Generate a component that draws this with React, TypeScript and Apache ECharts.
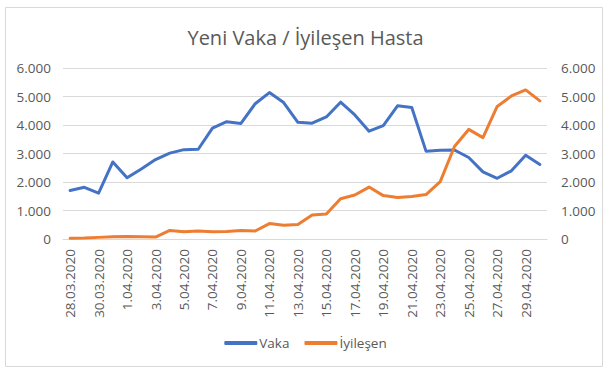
import React, { useEffect, useRef } from "react";
import * as echarts from "echarts";

const dates = [
  "28.03.2020", "29.03.2020", "30.03.2020", "31.03.2020",
  "1.04.2020", "2.04.2020", "3.04.2020", "4.04.2020", "5.04.2020", "6.04.2020",
  "7.04.2020", "8.04.2020", "9.04.2020", "10.04.2020", "11.04.2020", "12.04.2020",
  "13.04.2020", "14.04.2020", "15.04.2020", "16.04.2020", "17.04.2020", "18.04.2020",
  "19.04.2020", "20.04.2020", "21.04.2020", "22.04.2020", "23.04.2020", "24.04.2020",
  "25.04.2020", "26.04.2020", "27.04.2020", "28.04.2020", "29.04.2020", "30.04.2020",
];

const vaka = [
  1704, 1815, 1610, 2704, 2148, 2456, 2786, 3013, 3135, 3148,
  3892, 4117, 4056, 4747, 5138, 4789, 4093, 4062, 4281, 4801,
  4353, 3783, 3977, 4674, 4611, 3083, 3116, 3122, 2861, 2357,
  2131, 2392, 2936, 2615,
];

const iyilesen = [
  28, 35, 57, 81, 90, 82, 69, 302, 256, 284,
  256, 264, 296, 281, 542, 481, 511, 842, 875, 1415,
  1542, 1822, 1523, 1454, 1488, 1559, 2014, 3246, 3845, 3558,
  4651, 5018, 5231, 4846,
];

const yTicks = [0, 1000, 2000, 3000, 4000, 5000, 6000];

const fmt = (v: number) => {
  const s = String(Math.round(v));
  return s.replace(/\B(?=(\d{3})+(?!\d))/g, ".");
};

const FONT = "Open Sans";
const TXT = "#595959";

export default function App() {
  const ref = useRef<HTMLDivElement>(null);
  useEffect(() => {
    document.body.style.margin = "0";
    const chart = echarts.init(ref.current!, null, { renderer: "svg" });
    chart.setOption({
      animation: false,
      backgroundColor: "#ffffff",
      textStyle: { fontFamily: FONT },
      title: {
        text: "Yeni Vaka / İyileşen Hasta",
        left: "center",
        top: 22,
        textStyle: { fontFamily: FONT, fontSize: 20, fontWeight: "normal", color: TXT },
      },
      graphic: [
        {
          type: "rect",
          shape: { x: 5.5, y: 7.5, width: 597, height: 359 },
          style: { fill: "none", stroke: "#d9d9d9", lineWidth: 1 },
          silent: true,
        },
      ],
      grid: { left: 63, right: 64, top: 68, bottom: 133, containLabel: false },
      legend: {
        data: ["Vaka", "İyileşen"],
        left: "center",
        top: 331,
        icon: "roundRect",
        itemWidth: 33,
        itemHeight: 4,
        itemGap: 15,
        textStyle: { fontFamily: FONT, fontSize: 13.5, color: TXT, padding: [0, 0, 0, -3] },
      },
      xAxis: {
        type: "category",
        data: dates,
        boundaryGap: true,
        axisLine: { show: true, lineStyle: { color: "#d9d9d9", width: 1 } },
        axisTick: { show: false },
        axisLabel: {
          interval: 1,
          rotate: 90,
          margin: 10,
          fontFamily: FONT,
          fontSize: 13.5,
          color: TXT,
        },
      },
      yAxis: [
        {
          type: "value",
          min: 0,
          max: 6000,
          interval: 1000,
          axisLine: { show: false },
          axisTick: { show: false },
          splitLine: { lineStyle: { color: "#d9d9d9", width: 1 } },
          axisLabel: {
            margin: 12,
            fontFamily: FONT,
            fontSize: 13.5,
            color: TXT,
            formatter: (v: number) => (yTicks.includes(v) ? fmt(v) : ""),
          },
        },
        {
          type: "value",
          min: 0,
          max: 6000,
          interval: 1000,
          position: "right",
          axisLine: { show: false },
          axisTick: { show: false },
          splitLine: { show: false },
          axisLabel: {
            margin: 14,
            fontFamily: FONT,
            fontSize: 13.5,
            color: TXT,
            formatter: (v: number) => (yTicks.includes(v) ? fmt(v) : ""),
          },
        },
      ],
      series: [
        {
          name: "Vaka",
          type: "line",
          data: vaka,
          yAxisIndex: 0,
          showSymbol: false,
          symbol: "none",
          lineStyle: { color: "#4472C4", width: 3, join: "round", cap: "round" },
          itemStyle: { color: "#4472C4" },
        },
        {
          name: "İyileşen",
          type: "line",
          data: iyilesen,
          yAxisIndex: 1,
          showSymbol: false,
          symbol: "none",
          lineStyle: { color: "#ED7D31", width: 3, join: "round", cap: "round" },
          itemStyle: { color: "#ED7D31" },
        },
      ],
    });
    return () => chart.dispose();
  }, []);
  return <div ref={ref} style={{ width: 611, height: 372 }} />;
}
